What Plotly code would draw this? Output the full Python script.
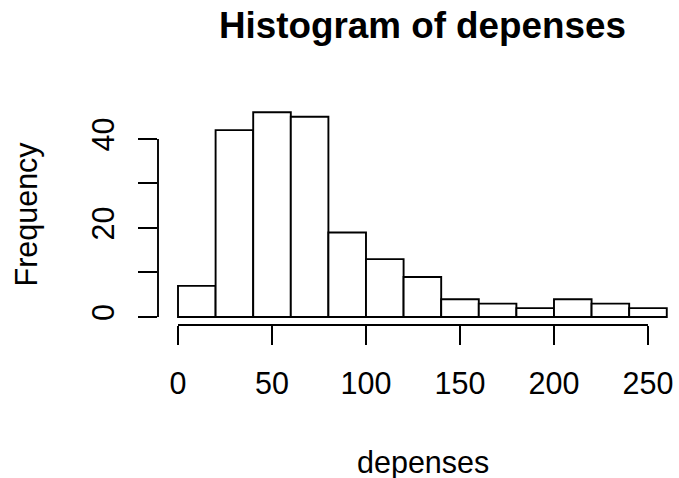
import plotly.graph_objects as go

# Data: histogram of "depenses" (breaks of width 20, counts per bin)
breaks = [0, 20, 40, 60, 80, 100, 120, 140, 160, 180, 200, 220, 240, 260]
counts = [7, 42, 46, 45, 19, 13, 9, 4, 3, 2, 4, 3, 2]
x_ticks = [0, 50, 100, 150, 200, 250]
y_ticks = [0, 10, 20, 30, 40]
y_ticktext = ["0", "", "20", "", "40"]

mids = [(breaks[i] + breaks[i + 1]) / 2 for i in range(len(counts))]
widths = [breaks[i + 1] - breaks[i] for i in range(len(counts))]

FONT = "Liberation Sans, Arial, Helvetica, sans-serif"
W, H = 679, 478
L, R, T, B = 158, 0, 104, 153
LW = 1.9

fig = go.Figure()
fig.add_trace(go.Bar(
    x=mids, y=counts, width=widths,
    marker=dict(color="white", line=dict(color="black", width=LW)),
    hoverinfo="x+y",
))

fig.update_layout(
    width=W, height=H,
    margin=dict(l=L, r=R, t=T, b=B, pad=0),
    paper_bgcolor="white", plot_bgcolor="white",
    showlegend=False,
    font=dict(family=FONT, color="black", size=30.5),
    title=dict(text="<b>Histogram of depenses</b>", font=dict(size=36.8, family=FONT, color="black"),
               xref="paper", x=0.5075, xanchor="center",
               yref="container", y=1 - 25 / H, yanchor="middle"),
    xaxis=dict(range=[-10.64, 266.5], showgrid=False, zeroline=False, showline=False,
               tickmode="array", tickvals=x_ticks, ticks="outside", ticklen=19,
               tickwidth=LW, tickcolor="black", tickfont=dict(size=30.5),
               ticklabelstandoff=12),
    yaxis=dict(range=[-1.80, 47.86], showgrid=False, zeroline=False, showline=False,
               tickmode="array", tickvals=y_ticks, ticktext=y_ticktext, ticks="outside",
               ticklen=19, tickwidth=LW, tickcolor="black", tickangle=-90,
               tickfont=dict(size=30.5), ticklabelstandoff=12),
)

# axis lines spanning first to last tick (R base style)
fig.add_shape(type="line", xref="x", yref="paper", x0=min(x_ticks), x1=max(x_ticks), y0=0, y1=0,
              line=dict(color="black", width=LW))
fig.add_shape(type="line", xref="paper", yref="y", x0=0, x1=0, y0=min(y_ticks), y1=max(y_ticks),
              line=dict(color="black", width=LW))

# axis titles
fig.add_annotation(text="depenses", xref="paper", yref="paper",
                   x=(423 - L) / (W - L - R), y=-(462 - (H - B)) / (H - T - B),
                   xanchor="center", yanchor="middle", showarrow=False,
                   font=dict(size=30.5, family=FONT, color="black"))
fig.add_annotation(text="Frequency", xref="paper", yref="paper",
                   x=-(L - 26) / (W - L - R), y=0.5, textangle=-90,
                   xanchor="center", yanchor="middle", showarrow=False,
                   font=dict(size=30.5, family=FONT, color="black"))

fig.write_html("out.html")
